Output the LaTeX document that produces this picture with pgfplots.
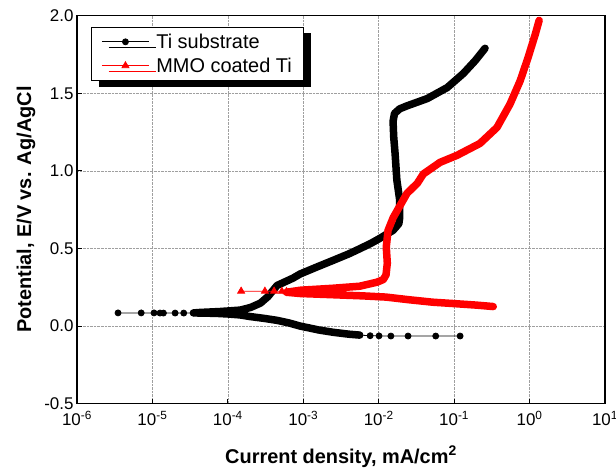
\documentclass[border=0pt]{standalone}
\usepackage{fontspec}
\setmainfont{Liberation Sans}
\usepackage{pgfplots}
\pgfplotsset{compat=1.18}
\usetikzlibrary{shadows}

\begin{document}
\begin{tikzpicture}
\begin{axis}[
    name=ax,
    xmode=log,
    width=528bp, height=388bp, scale only axis,
    xmin=1e-6, xmax=1e1,
    ymin=-0.5, ymax=2.0,
    xtick={1e-6,1e-5,1e-4,1e-3,1e-2,1e-1,1e0,1e1},
    xticklabels={10\textsuperscript{-6},10\textsuperscript{-5},10\textsuperscript{-4},10\textsuperscript{-3},10\textsuperscript{-2},10\textsuperscript{-1},10\textsuperscript{0},10\textsuperscript{1}},
    ytick={-0.5,0,0.5,1,1.5,2},
    yticklabels={-0.5,0.0,0.5,1.0,1.5,2.0},
    xminorticks=false,
    xtick pos=bottom, ytick pos=left,
    tick align=inside,
    major tick length=5bp,
    tick style={black, line width=1bp},
    axis line style={line width=1.1bp},
    tick label style={font=\fontsize{17}{20}\selectfont},
    xticklabel style={yshift=-4bp},
    grid=major,
    grid style={densely dotted, gray!75, line width=0.7bp},
    every axis x label/.style={at={(axis description cs:0.5,0)}, anchor=center, yshift=-53bp},
    every axis y label/.style={at={(axis description cs:-0.0966,0.5)}, anchor=center, rotate=90},
    label style={font=\bfseries\fontsize{20}{24}\selectfont},
    xlabel={Current density, mA/cm\textsuperscript{2}},
    ylabel={Potential, E/V vs. Ag/AgCl},
    legend style={at={(0.027,0.972)}, anchor=north west, draw=black, line width=0.6bp,
        fill=white, font=\fontsize{20}{24}\selectfont, inner xsep=10bp, inner ysep=5bp,
        row sep=4bp,
        general shadow={fill=black, shadow xshift=7bp, shadow yshift=-6bp}},
    legend cell align=left,
    legend image code/.code={\path (0bp,0bp) (52bp,0bp);
        \draw[mark repeat=2, mark phase=2] plot coordinates {(0bp,0bp) (23.5bp,0bp) (47bp,0bp)};},
]
% Ti substrate: dense part drawn as a thick band
\addplot[black, line width=7.5bp, line cap=round, line join=round, forget plot] coordinates {
    (0.0056,-0.058) (0.0040,-0.052) (0.0025,-0.040) (0.0016,-0.025) (0.0012,-0.012)
    (9.1e-4,0.000) (6.5e-4,0.020) (4.5e-4,0.037) (3.0e-4,0.050) (1.94e-4,0.062)
    (1.45e-4,0.072) (1.0e-4,0.078) (7.0e-5,0.082) (4.3e-5,0.084) (3.5e-5,0.085)
    (4.3e-5,0.088) (7.9e-5,0.094) (1.45e-4,0.103) (2.0e-4,0.120) (2.7e-4,0.148)
    (3.4e-4,0.190) (4.0e-4,0.232) (4.5e-4,0.262) (7.3e-4,0.309) (9.1e-4,0.336)
    (1.5e-3,0.380) (2.5e-3,0.424) (4.0e-3,0.465) (5.7e-3,0.500) (8.0e-3,0.535)
    (0.0104,0.566) (0.0155,0.617) (0.0185,0.660) (0.019,0.700) (0.019,0.810)
    (0.0174,0.940) (0.0165,1.110) (0.0158,1.220) (0.0155,1.320) (0.0162,1.370)
    (0.019,1.400) (0.024,1.420) (0.044,1.466) (0.081,1.537) (0.132,1.627)
    (0.190,1.710) (0.257,1.790)
};
\addplot[black, line width=0.8bp, mark=*, mark size=3bp] coordinates {
    (0.12,-0.064) (0.057,-0.064) (0.0245,-0.064) (0.0145,-0.064) (0.0101,-0.063)
    (0.0077,-0.062) (0.0056,-0.058)
};
\addlegendentry{Ti substrate}
\addplot[black, line width=0.8bp, mark=*, mark size=3bp, forget plot] coordinates {
    (3.5e-5,0.085) (2.6e-5,0.084) (2.0e-5,0.084) (1.4e-5,0.084) (1.26e-5,0.084)
    (1.05e-5,0.085) (7.1e-6,0.085) (3.5e-6,0.085)
};
% MMO coated Ti
\addplot[red, line width=7.5bp, line cap=round, line join=round, forget plot] coordinates {
    (0.33,0.126) (0.20,0.135) (0.10,0.145) (0.052,0.154) (0.025,0.170)
    (0.0125,0.187) (0.0060,0.195) (2.5e-3,0.202) (9.1e-4,0.210) (6.0e-4,0.218)
    (9.1e-4,0.231) (2.5e-3,0.244) (5.6e-3,0.257) (9.5e-3,0.283) (0.0115,0.300)
    (0.0125,0.330) (0.0130,0.405) (0.0126,0.510) (0.0133,0.617) (0.0156,0.700)
    (0.021,0.810) (0.0237,0.855) (0.0325,0.920) (0.039,0.980) (0.065,1.055)
    (0.109,1.100) (0.22,1.177) (0.37,1.280) (0.55,1.430) (0.75,1.580)
    (0.955,1.730) (1.19,1.880) (1.34,1.970)
};
\addplot[red, line width=0.8bp, mark=triangle*, mark size=4bp] coordinates {
    (1.5e-4,0.225) (3.1e-4,0.225) (4.1e-4,0.225) (5.2e-4,0.224) (6.0e-4,0.222)
};
\addlegendentry{MMO coated Ti}
\end{axis}
\pgfresetboundingbox
\path ([xshift=-77bp,yshift=-67bp]ax.south west) rectangle ([xshift=11bp,yshift=15.7bp]ax.north east);
\end{tikzpicture}
\end{document}
